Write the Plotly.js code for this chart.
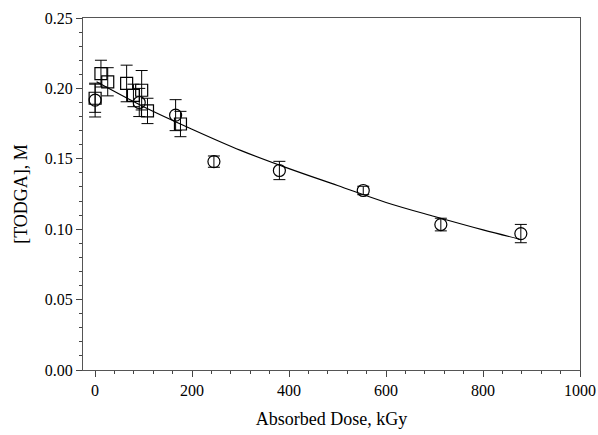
<!DOCTYPE html>
<html><head><meta charset="utf-8">
<script src="https://cdn.plot.ly/plotly-3.0.1.min.js"></script>
<style>body{margin:0;background:#fff}#c{width:598px;height:435px}</style>
</head><body><div id="c"></div>
<script>
// Squares series
const sqX = [0, 12, 26, 65, 79, 96, 108, 176];
const sqY = [0.193, 0.2105, 0.2047, 0.2035, 0.195, 0.1987, 0.184, 0.1747];
const sqE = [0.010, 0.0095, 0.010, 0.013, 0.008, 0.014, 0.009, 0.009];
// Circles series
const ciX = [0, 91, 166, 245, 380, 553, 713, 878];
const ciY = [0.1917, 0.190, 0.181, 0.148, 0.1417, 0.1275, 0.1033, 0.0969];
const ciE = [0.012, 0.010, 0.011, 0.004, 0.0065, 0.003, 0.0045, 0.0065];
// Fitted curve
const fitX = [3, 100, 200, 300, 400, 500, 600, 700, 800, 875];
const fitY = [0.2047, 0.187, 0.171, 0.156, 0.143, 0.131, 0.119, 0.109, 0.0995, 0.0930];
const xTicks = [0, 200, 400, 600, 800, 1000];
const yTicks = [0, 0.05, 0.10, 0.15, 0.20, 0.25];

const errStyle = {type:'data', visible:true, color:'#000', thickness:1, width:6};
const data = [
  {x: fitX, y: fitY, mode:'lines', line:{color:'#000', width:1.2, shape:'spline'}, hoverinfo:'skip'},
  {x: ciX, y: ciY, mode:'markers', error_y: Object.assign({array: ciE}, errStyle),
   marker:{symbol:'circle-open', size:12, color:'#000', line:{width:1.2, color:'#000'}}},
  {x: sqX, y: sqY, mode:'markers', error_y: Object.assign({array: sqE}, errStyle),
   marker:{symbol:'square-open', size:12, color:'#000', line:{width:1.2, color:'#000'}}}
];
const fam = '"Liberation Serif", "DejaVu Serif", serif';
const tickFont = {family:fam, size:16, color:'#000'};
const titleFont = {family:fam, size:18, color:'#000'};
const layout = {
  width:598, height:435, showlegend:false,
  paper_bgcolor:'#fff', plot_bgcolor:'#fff',
  margin:{l:83, r:18, t:18, b:65},
  font: tickFont,
  xaxis:{range:[-25,1000], tickvals:xTicks, ticks:'outside', ticklen:6, tickcolor:'#444',
    showline:true, linecolor:'#555', linewidth:1, mirror:true, showgrid:false, zeroline:false,
    minor:{dtick:40, tick0:0, ticks:'outside', ticklen:3, tickcolor:'#444', showgrid:false},
    tickfont:tickFont, title:{text:'Absorbed Dose, kGy', font:titleFont, standoff:14}},
  yaxis:{range:[0,0.25], tickvals:yTicks, tickformat:'.2f', ticks:'outside', ticklen:6, tickcolor:'#444',
    showline:true, linecolor:'#555', linewidth:1, mirror:true, showgrid:false, zeroline:false,
    minor:{dtick:0.01, tick0:0, ticks:'outside', ticklen:3, tickcolor:'#444', showgrid:false},
    tickfont:tickFont, title:{text:'[TODGA], M', font:titleFont, standoff:12}}
};
Plotly.newPlot('c', data, layout, {displayModeBar:false, staticPlot:true});
</script></body></html>
